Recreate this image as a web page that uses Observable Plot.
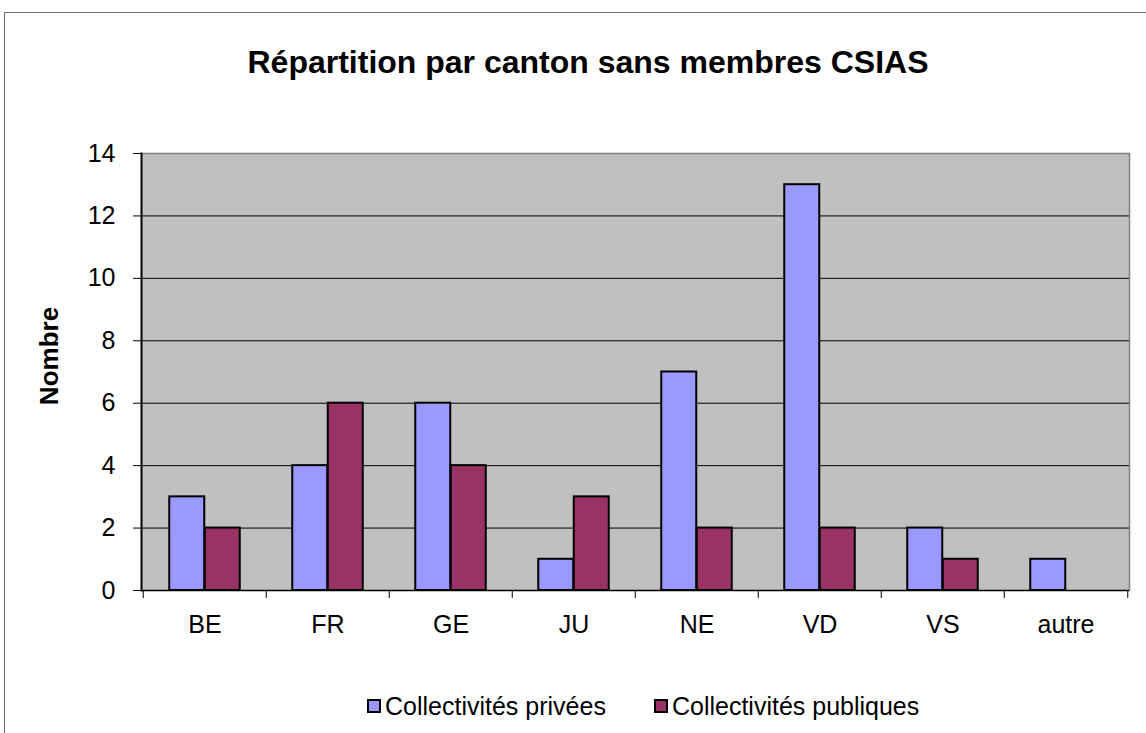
<!DOCTYPE html>
<html>
<head>
<meta charset="utf-8">
<script src="https://cdn.jsdelivr.net/npm/d3@7"></script>
<script src="https://cdn.jsdelivr.net/npm/@observablehq/plot@0.6"></script>
<style>
  html, body { margin: 0; padding: 0; background: #fff; }
  #wrap { position: relative; width: 1146px; height: 733px; overflow: hidden; font-family: Arial, "Liberation Sans", sans-serif; }
  #frame { position: absolute; left: 4px; top: 12px; width: 1160px; height: 740px; border: 1px solid #6b6b6b; box-sizing: border-box; }
  #title { position: absolute; left: 0; width: 1176px; top: 42px; text-align: center; font-weight: bold; font-size: 32px; line-height: 40px; }
  #ylabel { position: absolute; left: 49px; top: 356px; transform: translate(-50%, -50%) rotate(-90deg); font-weight: bold; font-size: 26px; white-space: nowrap; line-height: 30px; }
  #chart { position: absolute; left: 0; top: 100px; }
  #legend { position: absolute; top: 691px; left: 367px; font-size: 25px; line-height: 30px; display: flex; align-items: center; }
  .sw { display: inline-block; width: 14px; height: 14px; border: 2px solid #000; box-sizing: border-box; margin-right: 4px; }
</style>
</head>
<body>
<div id="wrap">
  <div id="frame"></div>
  <div id="title">Répartition par canton sans membres CSIAS</div>
  <div id="ylabel">Nombre</div>
  <div id="chart"></div>
  <div id="legend"></div>
</div>
<script>
const cantons = ["BE", "FR", "GE", "JU", "NE", "VD", "VS", "autre"];
const privees = [3, 4, 6, 1, 7, 13, 2, 1];
const publiques = [2, 6, 4, 3, 2, 2, 1, 0];
const yTicks = [0, 2, 4, 6, 8, 10, 12, 14];
const seriesNames = ["Collectivités privées", "Collectivités publiques"];
const seriesColors = ["#9999FF", "#993366"];

const rowsPriv = cantons.map((c, i) => ({canton: c, value: privees[i]}));
const rowsPub = cantons.map((c, i) => ({canton: c, value: publiques[i]})).filter(d => d.value > 0);

const W = 1146, H = 540;
const mL = 141, mR = 17, mT = 53, mB = 50;
const band = (W - mL - mR) / cantons.length;
const gap = band * 0.2126;
const half = band / 2;

const chart = Plot.plot({
  width: W,
  height: H,
  marginLeft: mL,
  marginRight: mR,
  marginTop: mT,
  marginBottom: mB,
  style: {fontFamily: "Arial, 'Liberation Sans', sans-serif", fontSize: "25px", color: "#000", background: "transparent", overflow: "visible"},
  x: {domain: cantons, padding: 0},
  y: {domain: [0, 14]},
  marks: [
    Plot.frame({fill: "#C0C0C0"}),
    Plot.ruleY(yTicks.filter(t => t > 0 && t < 14), {stroke: "#000", strokeWidth: 1}),
    Plot.ruleY([14], {stroke: "#808080", strokeWidth: 1.5}),
    Plot.frame({anchor: "right", stroke: "#808080", strokeWidth: 1.5}),
    Plot.barY(rowsPriv, {x: "canton", y: "value", fill: seriesColors[0], stroke: "#000", strokeWidth: 2, insetLeft: gap, insetRight: half}),
    Plot.barY(rowsPub, {x: "canton", y: "value", fill: seriesColors[1], stroke: "#000", strokeWidth: 2, insetLeft: half, insetRight: gap}),
    Plot.ruleX(cantons, {x: d => d, dx: -half, y1: 0, y2: 0, insetTop: 0, insetBottom: -8, stroke: "#000"}),
    Plot.ruleX(["autre"], {x: d => d, dx: half, y1: 0, y2: 0, insetTop: 0, insetBottom: -8, stroke: "#000"}),
    Plot.axisX({tickSize: 0, tickPadding: 25, fontSize: 25, label: null}),
    Plot.axisY({ticks: yTicks, tickSize: 8, tickPadding: 18, fontSize: 25, tickFormat: d => String(d), label: null}),
    Plot.ruleY([0], {stroke: "#000", strokeWidth: 1.5}),
    Plot.frame({anchor: "left", stroke: "#000", strokeWidth: 2})
  ]
});
document.getElementById("chart").appendChild(chart);

const legend = document.getElementById("legend");
seriesNames.forEach((name, i) => {
  const item = document.createElement("span");
  item.style.display = "inline-flex";
  item.style.alignItems = "center";
  item.style.marginRight = i === 0 ? "48px" : "0";
  const sw = document.createElement("span");
  sw.className = "sw";
  sw.style.background = seriesColors[i];
  item.appendChild(sw);
  item.appendChild(document.createTextNode(name));
  legend.appendChild(item);
});
</script>
</body>
</html>
